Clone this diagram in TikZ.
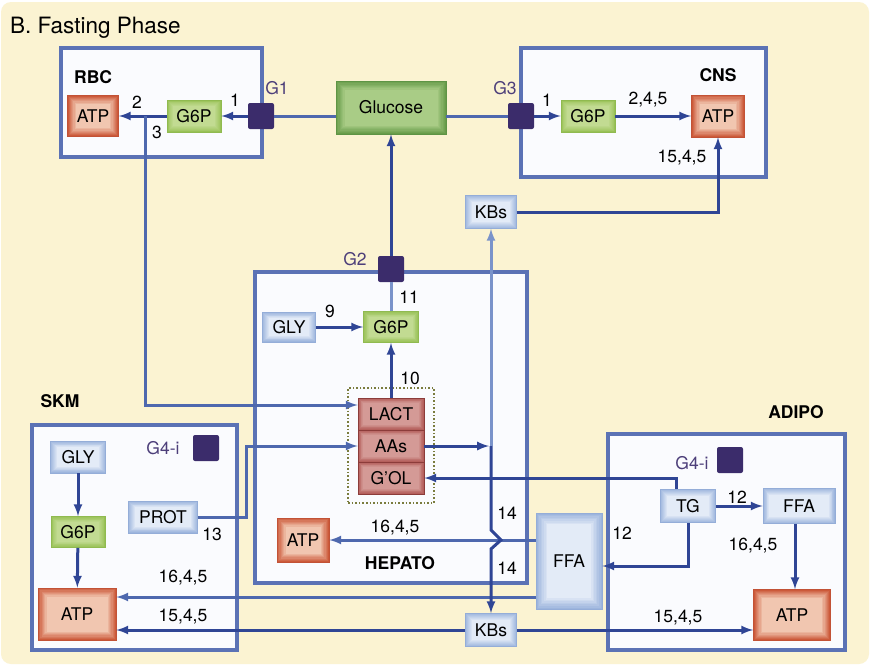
\documentclass[tikz,border=0pt]{standalone}
\usepackage{fontspec}
\setmainfont{TeX Gyre Heros}
\usetikzlibrary{calc}

\definecolor{cream}{HTML}{FBF3D2}
\definecolor{cellline}{HTML}{5B72B5}
\definecolor{cellfill}{HTML}{FAFBFE}
\definecolor{darkline}{HTML}{2F4595}
\definecolor{midline}{HTML}{4E68AE}
\definecolor{lightline}{HTML}{7A93CA}
\definecolor{carriercol}{HTML}{3B2C6B}
\definecolor{gatetext}{HTML}{4D3F7A}
\definecolor{atpout}{HTML}{CC5A3A}
\definecolor{atpin}{HTML}{F1C6B0}
\definecolor{atpedge}{HTML}{C25236}
\definecolor{gsixout}{HTML}{98C156}
\definecolor{gsixin}{HTML}{C2DB92}
\definecolor{gsixedge}{HTML}{90BA50}
\definecolor{glcout}{HTML}{689C4A}
\definecolor{glcin}{HTML}{A9CC86}
\definecolor{glcedge}{HTML}{5E9445}
\definecolor{poolout}{HTML}{9DB5DD}
\definecolor{poolin}{HTML}{E3EBF7}
\definecolor{pooledge}{HTML}{94ADD8}
\definecolor{precout}{HTML}{B05653}
\definecolor{precin}{HTML}{D49A96}
\definecolor{precedge}{HTML}{8C3C3A}
\definecolor{dotcol}{HTML}{7A7C3E}

\begin{document}
\begin{tikzpicture}[x=1pt,y=-1pt,
    every node/.style={font=\fontsize{17.5}{20}\selectfont, inner sep=0pt},
    cell/.style={draw=cellline, line width=3.2pt, fill=cellfill},
    tag/.style={font=\fontsize{17.5}{20}\selectfont\bfseries},
    gate/.style={text=gatetext},
    carrier/.style={fill=carriercol, rounded corners=2pt, minimum size=26pt},
    glow/.style n args={3}{fill=#1, path picture={
        \foreach \k [evaluate=\k as \pct using int(100-\k*14)] in {0,...,6}
            \draw[line width=#3+0.2pt, draw=#2!\pct!#1]
                ([xshift=\k*#3+0.5*#3, yshift=\k*#3+0.5*#3]path picture bounding box.south west)
                rectangle ([xshift=-\k*#3-0.5*#3, yshift=-\k*#3-0.5*#3]path picture bounding box.north east);}},
    atp/.style={draw=atpedge, line width=0.8pt, glow={atpin}{atpout}{1.2pt}},
    gsix/.style={draw=gsixedge, line width=0.8pt, glow={gsixin}{gsixout}{0.8pt}},
    glucosebox/.style={draw=glcedge, line width=0.8pt, glow={glcin}{glcout}{1.2pt}},
    pool/.style={draw=pooledge, line width=0.8pt, glow={poolin}{poolout}{0.9pt}},
    precursor/.style={draw=precedge, line width=0.8pt, glow={precin}{precout}{0.7pt},
        minimum width=66pt, minimum height=32pt},
    dotbox/.style={draw=dotcol, line width=1.6pt, dotted},
    arr/.style={-latex, line width=3pt, draw=darkline},
    midarr/.style={arr, draw=midline},
    lightarr/.style={arr, draw=lightline},
    link/.style={line width=3pt, draw=midline}]
    % background
    \fill[white] (0,0) rectangle (870,665);
    \fill[cream, rounded corners=10pt] (1,2) rectangle (869,664);
    \useasboundingbox (0,0) rectangle (870,665);
    \node[anchor=base west, font=\fontsize{22.5}{26}\selectfont] (title) at (10,33) {B. Fasting Phase};
    % compartments
    \node[cell, minimum width=201pt, minimum height=109pt] (rbc) at (161.5,102.5) {};
    \node[cell, minimum width=245pt, minimum height=129pt] (cns) at (643.5,112.5) {};
    \node[cell, minimum width=272pt, minimum height=311pt] (hepato) at (391,427.5) {};
    \node[cell, minimum width=205pt, minimum height=225pt] (skm) at (134.5,537.5) {};
    \node[cell, minimum width=237pt, minimum height=216pt] (adipo) at (726.5,542) {};
    \node[tag, anchor=west] (rbcname) at (74,77) {RBC};
    \node[tag] (cnsname) at (718,75) {CNS};
    \node[tag] (skmname) at (60,401) {SKM};
    \node[tag] (hepname) at (400,563) {HEPATO};
    \node[tag] (adiponame) at (796,412) {ADIPO};
    % metabolites
    \node[atp, minimum width=51pt, minimum height=41pt] (rbcatp) at (93,116) {ATP};
    \node[gsix, minimum width=54pt, minimum height=32pt] (rbcg6p) at (194,116) {G6P};
    \node[glucosebox, minimum width=110pt, minimum height=53pt] (glucose) at (391,107.5) {Glucose};
    \node[gsix, minimum width=54pt, minimum height=32pt] (cnsg6p) at (588,116) {G6P};
    \node[atp, minimum width=53pt, minimum height=42pt] (cnsatp) at (718,116) {ATP};
    \node[pool, minimum width=51pt, minimum height=33pt] (kbstop) at (491,212) {KBs};
    \node[pool, minimum width=53pt, minimum height=30pt] (hepgly) at (289,327) {GLY};
    \node[gsix, minimum width=55pt, minimum height=31pt] (hepg6p) at (391,327) {G6P};
    \node[dotbox, minimum width=86pt, minimum height=115pt] (gluconeo) at (391,445.5) {};
    \node[precursor] (lact) at (391,414) {LACT};
    \node[precursor] (aas) at (391,446) {AAs};
    \node[precursor] (gol) at (391,478) {G'OL};
    \node[atp, minimum width=52pt, minimum height=44pt] (hepatp) at (303,540) {ATP};
    \node[draw=pooledge, line width=0.8pt, glow={poolin}{poolout}{1.6pt},
        minimum width=66pt, minimum height=96pt] (ffamid) at (569,561) {FFA};
    \node[pool, minimum width=51pt, minimum height=33pt] (kbsbot) at (491,630) {KBs};
    \node[pool, minimum width=55pt, minimum height=32pt] (skmgly) at (78,457) {GLY};
    \node[gsix, minimum width=54pt, minimum height=31pt] (skmg6p) at (78,532) {G6P};
    \node[atp, minimum width=78pt, minimum height=52pt] (skmatp) at (77,614) {ATP};
    \node[pool, minimum width=69pt, minimum height=32pt] (prot) at (163,517) {PROT};
    \node[pool, minimum width=55pt, minimum height=33pt] (tg) at (688,506) {TG};
    \node[pool, minimum width=72pt, minimum height=35pt] (ffa) at (799,506) {FFA};
    \node[atp, minimum width=77pt, minimum height=51pt] (adatp) at (792,615) {ATP};
    % transporters
    \node[carrier] (g1) at (261,116) {};
    \node[carrier] (g3) at (521,116) {};
    \node[carrier] (g2) at (391,269) {};
    \node[carrier] (skmgfour) at (206,448) {};
    \node[carrier] (adipogfour) at (730,460) {};
    \node[gate] (gonename) at (277,88) {G1};
    \node[gate] (gthreename) at (505,88) {G3};
    \node[gate] (gtwoname) at (355,259) {G2};
    \node[gate] (skmgfourname) at (163,448) {G4-i};
    \node[gate] (adipogfourname) at (692,463) {G4-i};
    % glucose traffic
    \draw[link] (g1) -- (g1 -| glucose.west);
    \draw[link] (glucose.east |- g3) -- (g3);
    \draw[arr] (g1) -- (rbcg6p);
    \draw[arr] (rbcg6p) -- (rbcatp);
    \draw[arr] (g3) -- (cnsg6p);
    \draw[arr] (cnsg6p) -- (cnsatp);
    \draw[link, draw=lightline] (hepg6p) -- (g2);
    \draw[arr] (g2) -- (glucose);
    \draw[arr] (hepgly) -- (hepg6p);
    \draw[arr] (lact) -- (hepg6p);
    \coordinate (rbcbranch) at (145,116);
    \draw[midarr] (rbcbranch) |- ([yshift=9pt]lact.west);
    \draw[midarr] (prot.east) -- ++(49,0) |- (aas.west);
    % fatty acids
    \draw[arr] ([xshift=-12pt]tg.north) |- (gol.east);
    \draw[arr] (tg.south) |- ([yshift=-5pt]ffamid.east);
    \draw[arr] (tg.east) -- (ffa.west);
    \draw[arr] ([xshift=-4pt]ffa.south) -- ([xshift=-4pt]ffa.south |- adatp.north);
    \draw[midarr] (ffamid.west |- hepatp) -- (hepatp.east);
    \draw[midarr] ([yshift=-36pt]ffamid.west) coordinate (ffalow) -- (ffalow -| skmatp.east);
    \draw[arr] (skmgly) -- (skmg6p);
    \draw[arr] (skmg6p) -- (skmatp);
    % ketone bodies
    \draw[arr] (kbsbot.west) -- (kbsbot.west -| skmatp.east);
    \draw[arr] (kbsbot.east) -- (kbsbot.east -| adatp.west);
    \draw[arr] (kbstop.east) -| (cnsatp.south);
    \coordinate (kbsjoin) at (491,446);
    \draw[arr, shorten >=2pt] (aas.east) -- (kbsjoin);
    \draw[lightarr] (kbsjoin) -- (kbstop.south);
    \draw[arr] (kbsjoin) -- ++(0,84) -- ++(10,10) -- ++(-10,9) -- (kbsbot.north);
    % step numbers
    \node (sone) at (235,100) {1};
    \node (stwo) at (137,102) {2};
    \node (sthree) at (157,132) {3};
    \node (sonec) at (547,100) {1};
    \node (stwoc) at (648,100) {2,4,5};
    \node (sfifteenc) at (682,158) {15,4,5};
    \node (seleven) at (409,297) {11};
    \node (snine) at (330,311) {9};
    \node (sten) at (410,378) {10};
    \node (sthirteen) at (212,534) {13};
    \node (ssixteens) at (183,578) {16,4,5};
    \node (sfifteens) at (183,617) {15,4,5};
    \node (ssixteenh) at (395,528) {16,4,5};
    \node (sfourteena) at (507,513) {14};
    \node (sfourteenb) at (507,568) {14};
    \node (stwelvea) at (622,533) {12};
    \node (stwelveb) at (737,497) {12};
    \node (ssixteena) at (753,546) {16,4,5};
    \node (sfifteena) at (678,618) {15,4,5};
\end{tikzpicture}
\end{document}
